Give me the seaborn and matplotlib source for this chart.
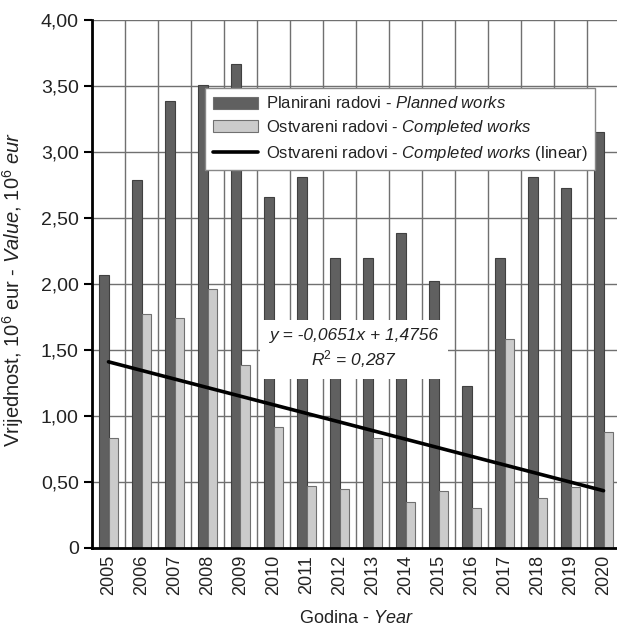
import numpy as np
import pandas as pd
import seaborn as sns
import matplotlib.pyplot as plt
import matplotlib.ticker as ticker

years = [str(y) for y in range(2005, 2021)]
planned = [2.07, 2.79, 3.39, 3.51, 3.67, 2.66, 2.81, 2.20,
           2.20, 2.39, 2.02, 1.23, 2.20, 2.81, 2.73, 3.15]
completed = [0.83, 1.77, 1.74, 1.96, 1.39, 0.92, 0.47, 0.45,
             0.83, 0.35, 0.43, 0.30, 1.58, 0.38, 0.46, 0.88]
trend_slope = -0.0651
trend_intercept = 1.4756
r_squared = "0,287"

lbl_planned = "Planirani radovi - $\\it{Planned\\ works}$"
lbl_completed = "Ostvareni radovi - $\\it{Completed\\ works}$"
lbl_trend = "Ostvareni radovi - $\\it{Completed\\ works}$ (linear)"

sns.set_style("white")
plt.rcParams["font.family"] = ["Liberation Sans", "DejaVu Sans"]
plt.rcParams["mathtext.fontset"] = "custom"
plt.rcParams["mathtext.rm"] = "Liberation Sans"
plt.rcParams["mathtext.it"] = "Liberation Sans:italic"
plt.rcParams["mathtext.bf"] = "Liberation Sans:bold"

df = pd.DataFrame({
    "Godina": years * 2,
    "Vrijednost": planned + completed,
    "Serija": [lbl_planned] * len(years) + [lbl_completed] * len(years),
})

fig = plt.figure(figsize=(6.17, 6.26), dpi=100)
ax = fig.add_axes([92 / 617, 78 / 626, 528 / 617, 528 / 626])

sns.barplot(
    data=df, x="Godina", y="Vrijednost", hue="Serija",
    palette=["#606060", "#cbcbcb"], width=0.58,
    edgecolor="#404040", linewidth=0.8, saturation=1, ax=ax, zorder=2,
)
for p in ax.patches[len(years):]:
    p.set_edgecolor("#707070")

# trend line from the stated coefficients
xi = np.arange(len(years))
ax.plot(xi, trend_intercept + trend_slope * (xi + 1), color="black",
        lw=2.6, zorder=4, label=lbl_trend)

ax.set_xlim(-0.5, len(years) - 0.5)
ax.set_ylim(0, 4.0)
ax.yaxis.set_major_locator(ticker.MultipleLocator(0.5))
ax.yaxis.set_major_formatter(ticker.FuncFormatter(
    lambda v, pos: "0" if v == 0 else f"{v:.2f}".replace(".", ",")))

ax.set_xticks(xi)
ax.set_xticklabels(years, rotation=90)
ax.set_xticks(np.arange(-0.5, len(years)), minor=True)
ax.tick_params(axis="x", which="major", length=0, pad=5, labelsize=13, colors="#222222")
ax.tick_params(axis="x", which="minor", length=6, width=1.5, color="black", direction="out")
ax.tick_params(axis="y", length=6, width=1.5, color="black", labelsize=14, labelcolor="#222222", left=True)

ax.grid(False)
ax.grid(axis="y", which="major", color="#707070", lw=1.0, zorder=0)
ax.grid(axis="x", which="minor", color="#707070", lw=1.0, zorder=0)
ax.set_axisbelow(True)

for s in ["top", "right"]:
    ax.spines[s].set_visible(False)
for s in ["left", "bottom"]:
    ax.spines[s].set_color("black")
    ax.spines[s].set_linewidth(2)

ax.set_xlabel("Godina - $\\it{Year}$", fontsize=13, color="#222222")
ax.set_ylabel("Vrijednost, 10$^6$ eur - $\\it{Value}$, $\\it{10^6\\ eur}$",
              fontsize=14.5, color="#222222")
ax.xaxis.set_label_coords(0.5, -0.117)
ax.yaxis.set_label_coords(-0.125, 0.489)

handles, labels = ax.get_legend_handles_labels()
leg = ax.legend(handles, labels, loc="upper left",
                bbox_to_anchor=(205 / 617, 1 - 88 / 626), bbox_transform=fig.transFigure,
                fontsize=12, frameon=True, fancybox=False, framealpha=1,
                edgecolor="#888888", handlelength=2.7, handleheight=0.75,
                handletextpad=0.5, labelspacing=0.4, borderpad=0.45, borderaxespad=0)
leg.get_frame().set_linewidth(1.0)
leg.set_zorder(5)
for t in leg.get_texts():
    t.set_color("#222222")

ax.text(7.45, 1.51,
        f"y = {trend_slope:.4f}x + {trend_intercept:.4f}".replace(".", ",") + "\nR$^2$ = " + r_squared,
        ha="center", va="center", fontsize=12.5, style="italic", color="#222222",
        linespacing=1.3, zorder=5,
        bbox=dict(boxstyle="square,pad=0.55", facecolor="white", edgecolor="none"))

fig.savefig("out.png", dpi=100, facecolor="white")
